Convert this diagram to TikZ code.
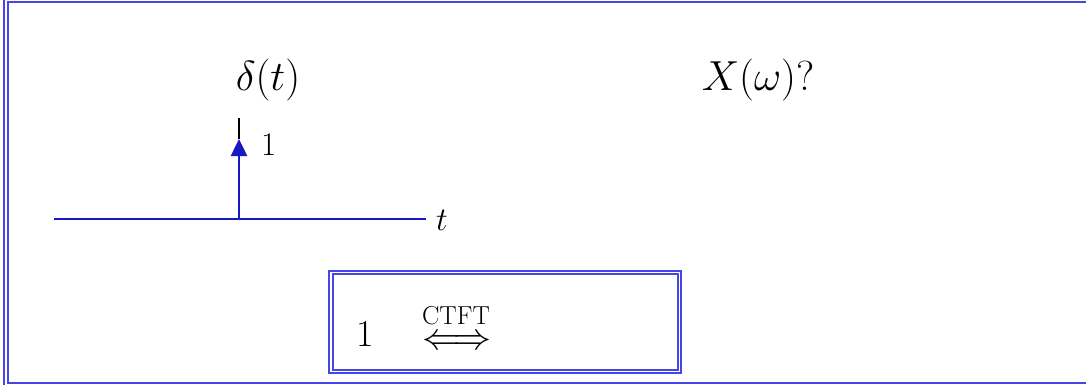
\RequirePackage{fix-cm}
\documentclass[tikz,border=0pt]{standalone}
\usepackage{amsmath}
\usetikzlibrary{arrows.meta}
\definecolor{frameblue}{RGB}{70,70,232}
\definecolor{axisblue}{RGB}{25,25,195}
\tikzset{
  frameline/.style={draw=frameblue, line width=2.2pt},
  boxframe/.style={draw=frameblue, double=white, double distance=1.6pt, line width=2.1pt},
  axisline/.style={draw=axisblue, line width=2.5pt},
  big/.style={inner sep=0pt, font=\fontsize{42}{46}\selectfont},
  mid/.style={inner sep=0pt, font=\fontsize{33}{36}\selectfont},
  boxtxt/.style={inner sep=0pt, font=\fontsize{38}{42}\selectfont},
}
\begin{document}
\begin{tikzpicture}[x=1pt,y=-1pt]
\useasboundingbox (0,0) rectangle (1086,384);
\clip (0,0) rectangle (1086,384);
\fill[white] (0,0) rectangle (1086,384);
% outer frame
\draw[frameline] (3.8,-10) rectangle (1100,394);
\draw[frameline] (7.8,2.3) rectangle (1096,382.6);
% titles
\node[big, anchor=base] (dt) at (268,90) {$\delta(t)$};
\node[big, anchor=base] (xw) at (758,90) {$X(\omega)$?};
% axis
\coordinate (a0) at (54,219);
\coordinate (a1) at (426,219);
\coordinate (s0) at (239,219);
\coordinate (s1) at (239,139);
\coordinate (s2) at (239,118);
\draw[axisline] (a0) -- (a1);
\draw[black, line width=2.2pt] (s1) -- (s2);
\draw[axisline, -{Triangle[length=17pt,width=16pt]}] (s0) -- (s1);
\node[mid, anchor=base west] (one) at (261,155) {$1$};
\node[mid, anchor=base west] (tl) at (436,230) {$t$};
% inner box
\draw[boxframe] (331,272.5) rectangle (679.5,371.5);
\node[boxtxt, anchor=base west] (b1) at (356,346) {$1$};
\node[boxtxt, anchor=base, text height=16pt, text depth=0pt] (arr) at (457,349) {$\Longleftrightarrow$};
\node[inner sep=0pt, font=\fontsize{26}{28}\selectfont, anchor=base] (ctft) at (456,324) {CTFT};
\end{tikzpicture}
\end{document}
